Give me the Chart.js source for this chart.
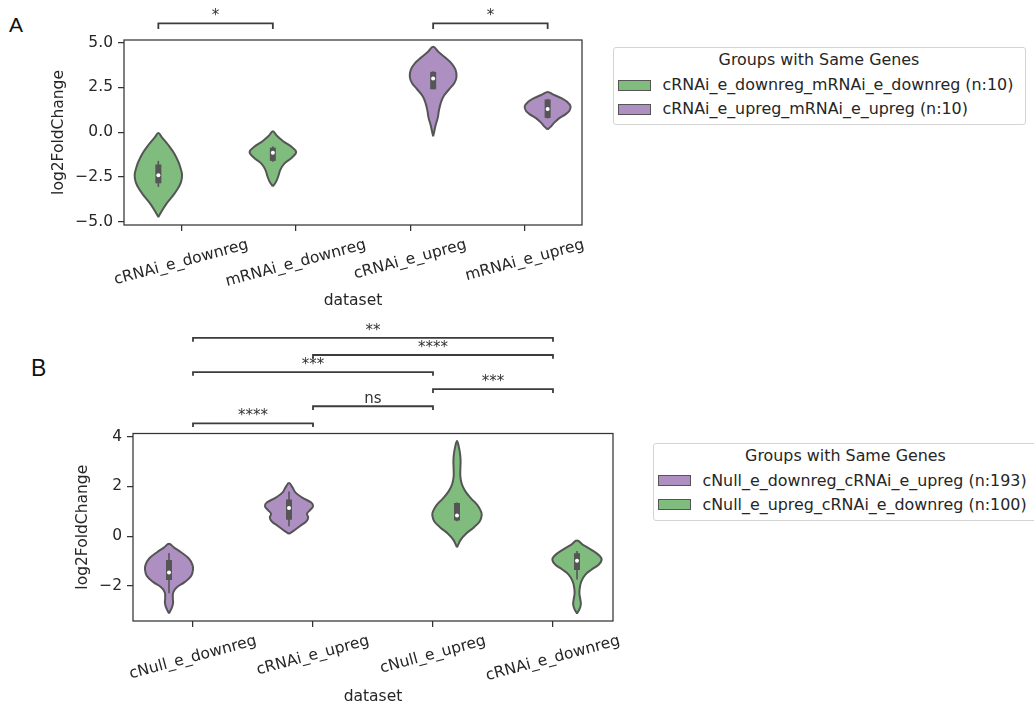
<!DOCTYPE html>
<html>
<head>
<meta charset="utf-8">
<script src="https://cdn.jsdelivr.net/npm/chart.js@4.4.1/dist/chart.umd.min.js"></script>
<style>
  html, body { margin: 0; padding: 0; background: #fff; }
  body { width: 1034px; height: 707px; position: relative; overflow: hidden;
         font-family: "DejaVu Sans", sans-serif; color: #262626; }
  canvas { position: absolute; }
  .letter { position: absolute; font-family: "Liberation Sans", Arial, sans-serif; line-height: 1; color: #111; }
  .legend { position: absolute; border: 1px solid #d4d4d4; border-radius: 3px; background: #fff;
            box-sizing: border-box; font-size: 15.9px; }
  .legend .title { position: absolute; left: 0; right: 0; text-align: center; line-height: 18px; white-space: nowrap; }
  .legend .item { position: absolute; line-height: 18px; white-space: nowrap; }
  .legend .patch { position: absolute; width: 33px; height: 11px; box-sizing: border-box; border: 1px solid #555; }
</style>
</head>
<body>
<div class="letter" style="left:9px;top:14px;font-size:21px">A</div>
<div class="letter" style="left:31px;top:357px;font-size:23px">B</div>
<canvas id="chartA" width="600" height="320" style="left:0;top:0"></canvas>
<canvas id="chartB" width="640" height="397" style="left:0;top:310px"></canvas>
<script>
// ---------- Panel A data ----------
const categoriesA = ['cRNAi_e_downreg', 'mRNAi_e_downreg', 'cRNAi_e_upreg', 'mRNAi_e_upreg'];
const groupsA = ['cRNAi_e_downreg_mRNAi_e_downreg (n:10)', 'cRNAi_e_upreg_mRNAi_e_upreg (n:10)'];
const groupOfA = [0, 0, 1, 1];
const yTicksA = [-5, -2.5, 0, 2.5, 5];
// log2FoldChange levels of each violin outline (bottom to top)
const levelsA = [
  [-4.73, -4.4, -4.0, -3.6, -3.2, -2.8, -2.4, -2.1, -1.7, -1.2, -0.7, -0.3, -0.04],
  [-3.02, -2.8, -2.5, -2.1, -1.75, -1.4, -1.1, -0.8, -0.5, -0.2, 0.05],
  [-0.22, 0.0, 0.4, 0.8, 1.2, 1.6, 2.0, 2.4, 2.75, 3.1, 3.5, 3.85, 4.2, 4.5, 4.77],
  [0.15, 0.3, 0.55, 0.8, 1.0, 1.2, 1.45, 1.7, 1.9, 2.1, 2.25]
];
// kernel density half-widths at those levels (category units)
const densityA = [
  [0, 0.03, 0.07, 0.12, 0.165, 0.197, 0.207, 0.198, 0.178, 0.14, 0.085, 0.033, 0],
  [0, 0.025, 0.045, 0.065, 0.1, 0.17, 0.203, 0.16, 0.09, 0.035, 0],
  [0, 0.008, 0.022, 0.04, 0.05, 0.065, 0.09, 0.14, 0.185, 0.204, 0.195, 0.16, 0.1, 0.045, 0],
  [0, 0.025, 0.06, 0.105, 0.155, 0.19, 0.2, 0.17, 0.12, 0.05, 0]
];
// [whisker low, Q1, median, Q3, whisker high]
const boxStatsA = [
  [-3.05, -2.85, -2.4, -1.8, -1.6],
  [-1.65, -1.6, -1.15, -0.86, -0.8],
  [2.4, 2.4, 3.0, 3.37, 3.4],
  [0.77, 0.8, 1.3, 1.83, 1.85]
];
const comparisonsA = [[0, 1, '*'], [2, 3, '*']];

// ---------- Panel B data ----------
const categoriesB = ['cNull_e_downreg', 'cRNAi_e_upreg', 'cNull_e_upreg', 'cRNAi_e_downreg'];
const groupsB = ['cNull_e_downreg_cRNAi_e_upreg (n:193)', 'cNull_e_upreg_cRNAi_e_downreg (n:100)'];
const groupOfB = [0, 0, 1, 1];
const yTicksB = [-2, 0, 2, 4];
const levelsB = [
  [-3.11, -2.9, -2.7, -2.5, -2.25, -2.05, -1.85, -1.6, -1.35, -1.15, -0.9, -0.65, -0.45, -0.31],
  [0.09, 0.2, 0.4, 0.6, 0.75, 0.9, 1.05, 1.2, 1.35, 1.55, 1.75, 1.95, 2.14],
  [-0.45, -0.15, 0.1, 0.35, 0.6, 0.85, 1.0, 1.25, 1.5, 1.8, 2.1, 2.4, 2.7, 3.0, 3.3, 3.6, 3.83],
  [-3.11, -2.95, -2.75, -2.55, -2.3, -2.05, -1.8, -1.55, -1.35, -1.15, -0.96, -0.8, -0.55, -0.35, -0.18]
];
const densityB = [
  [0, 0.022, 0.034, 0.032, 0.036, 0.068, 0.13, 0.185, 0.2, 0.195, 0.165, 0.1, 0.04, 0],
  [0, 0.035, 0.09, 0.145, 0.16, 0.15, 0.175, 0.2, 0.185, 0.11, 0.055, 0.03, 0],
  [0, 0.03, 0.075, 0.14, 0.19, 0.206, 0.2, 0.17, 0.12, 0.07, 0.04, 0.028, 0.028, 0.03, 0.026, 0.015, 0],
  [0, 0.02, 0.032, 0.028, 0.02, 0.024, 0.038, 0.07, 0.12, 0.18, 0.205, 0.19, 0.12, 0.05, 0]
];
const boxStatsB = [
  [-2.3, -1.77, -1.46, -0.96, -0.68],
  [0.4, 0.66, 1.13, 1.47, 1.8],
  [0.6, 0.63, 0.83, 1.33, 1.35],
  [-1.75, -1.36, -0.99, -0.69, -0.6]
];
const comparisonsB = [[0, 1, '****'], [1, 2, 'ns'], [2, 3, '***'], [0, 2, '***'], [1, 3, '****'], [0, 3, '**']];

// ---------- styling ----------
const FAMILY = '"DejaVu Sans", sans-serif';
const FS = 15.5;
const TEXT = '#262626';
const EDGE = '#555555';
const FRAME = '#333333';
const GREEN = '#80bc7d';
const PURPLE = '#ad8fc2';

Chart.defaults.font.family = FAMILY;
Chart.defaults.font.size = FS;
Chart.defaults.color = TEXT;

function signed(v, d) {
  const s = Math.abs(v).toFixed(d);
  return v < 0 ? '\u2212' + s : s;
}

// closed outline: right side upwards, then left side back down
function violinOutline(center, levels, dens) {
  const pts = [];
  for (let i = 0; i < levels.length; i++) pts.push({ x: center + dens[i], y: levels[i] });
  for (let i = levels.length - 2; i >= 0; i--) pts.push({ x: center - dens[i], y: levels[i] });
  return pts;
}

// stack brackets: each sits one level above any earlier bracket it touches
function bracketLevels(spans) {
  const placed = [];
  return spans.map(([a, b]) => {
    let lvl = 0;
    placed.forEach(p => { if (a <= p.b && b >= p.a) lvl = Math.max(lvl, p.lvl + 1); });
    placed.push({ a, b, lvl });
    return lvl;
  });
}

function buildPanel(p) {
  const centers = p.categories.map((c, i) => i + (p.groupOf[i] === 0 ? -p.dodge : p.dodge));
  const datasets = [];
  p.levels.forEach((lv, i) => {
    const c = centers[i];
    const b = p.boxes[i];
    datasets.push({ data: violinOutline(c, lv, p.density[i]), borderColor: EDGE, borderWidth: 2,
      backgroundColor: p.colors[p.groupOf[i]], fill: 'shape', tension: 0.4, pointRadius: 0, order: 4 });
    datasets.push({ data: [{ x: c, y: b[0] }, { x: c, y: b[4] }], borderColor: EDGE, borderWidth: 1.6,
      pointRadius: 0, fill: false, order: 3 });
    datasets.push({ data: [{ x: c, y: b[1] }, { x: c, y: b[3] }], borderColor: EDGE, borderWidth: 6,
      borderCapStyle: 'butt', pointRadius: 0, fill: false, order: 2 });
    datasets.push({ data: [{ x: c, y: b[2] }], showLine: false, pointRadius: 2,
      pointBackgroundColor: '#ffffff', pointBorderWidth: 0, order: 1 });
  });

  const bx = p.bracketOnViolin ? centers : p.categories.map((c, i) => i);
  const spans = p.comparisons.map(([i, j]) => [bx[i], bx[j]]);
  const lv = bracketLevels(spans);
  const by = lv.map(l => p.yMax + p.bracketBase + l * p.bracketStep);
  spans.forEach(([a, b], k) => {
    datasets.push({
      data: [{ x: a, y: by[k] - p.bracketTip }, { x: a, y: by[k] }, { x: b, y: by[k] }, { x: b, y: by[k] - p.bracketTip }],
      borderColor: '#3c3c3c', borderWidth: 1.8, tension: 0, pointRadius: 0, fill: false, clip: false, order: 0
    });
  });

  const texts = {
    id: 'panelTexts',
    afterDraw(chart) {
      const { ctx, chartArea: a, scales: { x, y } } = chart;
      ctx.save();
      ctx.strokeStyle = FRAME;
      ctx.lineWidth = 1.25;
      ctx.strokeRect(a.left, a.top, a.right - a.left, a.bottom - a.top);

      ctx.fillStyle = TEXT;
      ctx.font = FS + 'px ' + FAMILY;
      const rot = 15 * Math.PI / 180;
      const lh = FS * 1.16;
      p.categories.forEach((c, i) => {
        const w = ctx.measureText(c).width;
        const hh = w * Math.sin(rot) + lh * Math.cos(rot);
        ctx.save();
        ctx.translate(x.getPixelForValue(i), a.bottom + 11 + hh / 2);
        ctx.rotate(-rot);
        ctx.textAlign = 'center';
        ctx.textBaseline = 'middle';
        ctx.fillText(c, 0, 0);
        ctx.restore();
      });

      ctx.textAlign = 'center';
      ctx.textBaseline = 'middle';
      ctx.fillText('dataset', (a.left + a.right) / 2, a.bottom + 76);
      const tw = Math.max(...p.yTicks.map(v => ctx.measureText(signed(v, p.decimals)).width));
      ctx.save();
      ctx.translate(a.left - 11 - tw - 8 - FS * 0.55, (a.top + a.bottom) / 2);
      ctx.rotate(-Math.PI / 2);
      ctx.fillText('log2FoldChange', 0, 0);
      ctx.restore();

      ctx.font = '15px ' + FAMILY;
      ctx.fillStyle = '#333';
      ctx.textBaseline = 'alphabetic';
      spans.forEach(([s, e], k) => {
        const mx = (x.getPixelForValue(s) + x.getPixelForValue(e)) / 2;
        ctx.fillText(p.comparisons[k][2], mx, y.getPixelForValue(by[k]) - 3);
      });
      ctx.restore();
    }
  };

  const grid = { display: true, drawOnChartArea: false, drawTicks: true, tickLength: 6, color: FRAME, lineWidth: 1.25 };
  new Chart(document.getElementById(p.canvas), {
    type: 'line',
    data: { datasets },
    options: {
      responsive: false,
      animation: false,
      devicePixelRatio: 1,
      events: [],
      layout: { padding: { left: 0, top: p.area.top, right: p.size[0] - p.area.right, bottom: 0 } },
      plugins: { legend: { display: false }, tooltip: { enabled: false } },
      scales: {
        x: {
          type: 'linear', min: -0.5, max: 3.5,
          afterBuildTicks: s => { s.ticks = p.categories.map((c, i) => ({ value: i })); },
          afterFit: s => { s.height = p.size[1] - p.area.bottom; },
          ticks: { display: false },
          grid, border: { display: false }
        },
        y: {
          type: 'linear', min: p.yMin, max: p.yMax,
          afterBuildTicks: s => { s.ticks = p.yTicks.map(v => ({ value: v })); },
          afterFit: s => { s.width = p.area.left; },
          ticks: { callback: v => signed(v, p.decimals), padding: 5, color: TEXT, font: { size: FS } },
          grid, border: { display: false }
        }
      }
    },
    plugins: [texts]
  });
}

function buildLegend(box, title, labels, colors) {
  const el = document.createElement('div');
  el.className = 'legend';
  Object.assign(el.style, { left: box.left + 'px', top: box.top + 'px', width: box.width + 'px', height: box.height + 'px' });
  const t = document.createElement('div');
  t.className = 'title';
  t.style.top = (13 - 10) + 'px';
  t.textContent = title;
  el.appendChild(t);
  labels.forEach((lab, i) => {
    const cy = 38 + i * 24;
    const patch = document.createElement('div');
    patch.className = 'patch';
    Object.assign(patch.style, { left: '4px', top: (cy - 6.5) + 'px', background: colors[i] });
    const item = document.createElement('div');
    item.className = 'item';
    Object.assign(item.style, { left: '49px', top: (cy - 10) + 'px' });
    item.textContent = lab;
    el.appendChild(patch);
    el.appendChild(item);
  });
  document.body.appendChild(el);
}

buildPanel({
  canvas: 'chartA', categories: categoriesA, groupOf: groupOfA, colors: [GREEN, PURPLE],
  levels: levelsA, density: densityA, boxes: boxStatsA, comparisons: comparisonsA,
  yTicks: yTicksA, decimals: 1, yMin: -5.18, yMax: 5.15, dodge: 0.2, bracketOnViolin: true,
  bracketBase: 0.93, bracketStep: 0, bracketTip: 0.32,
  area: { left: 124, right: 582, top: 40, bottom: 225 }, size: [600, 320]
});
buildPanel({
  canvas: 'chartB', categories: categoriesB, groupOf: groupOfB, colors: [PURPLE, GREEN],
  levels: levelsB, density: densityB, boxes: boxStatsB, comparisons: comparisonsB,
  yTicks: yTicksB, decimals: 0, yMin: -3.415, yMax: 4.13, dodge: 0.2, bracketOnViolin: false,
  bracketBase: 0.41, bracketStep: 0.687, bracketTip: 0.15,
  area: { left: 133, right: 613, top: 123.5, bottom: 311 }, size: [640, 397]
});

buildLegend({ left: 612.5, top: 47, width: 413, height: 78 }, 'Groups with Same Genes', groupsA, [GREEN, PURPLE]);
buildLegend({ left: 652.5, top: 442.5, width: 386, height: 78 }, 'Groups with Same Genes', groupsB, [PURPLE, GREEN]);
</script>
</body>
</html>
